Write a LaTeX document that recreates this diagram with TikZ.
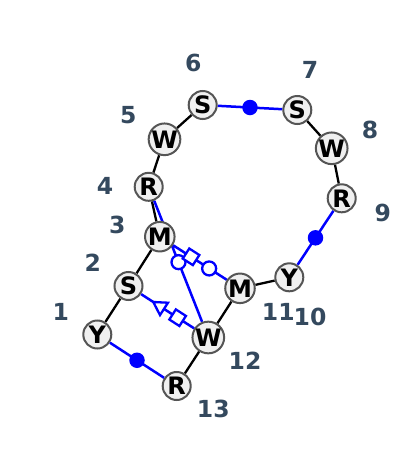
\documentclass[tikz,border=0pt]{standalone}
\usepackage{fontspec}
\setmainfont{DejaVu Sans}
\usetikzlibrary{calc,shapes.geometric}
\definecolor{nodefill}{RGB}{240,240,240}
\definecolor{nodeedge}{RGB}{85,85,85}
\definecolor{labcol}{RGB}{52,73,94}
\pgfdeclarelayer{bg}
\pgfsetlayers{bg,main}
\begin{document}
\begin{tikzpicture}[x=1pt,y=-1pt,
  nt/.style={circle,draw=nodeedge,fill=nodefill,line width=2pt,minimum size=28pt,inner sep=0pt,font=\fontsize{24}{24}\selectfont\bfseries},
  lab/.style={text=labcol,inner sep=0pt,font=\fontsize{23.5}{23.5}\selectfont\bfseries},
  bb/.style={draw=black,line width=2.3pt},
  bp/.style={draw=blue,line width=2.5pt},
  dotsym/.style={circle,fill=blue,minimum size=15.5pt,inner sep=0pt},
  sym/.style={draw=blue,fill=white,line width=2.3pt,inner sep=0pt},
  sqsym/.style={sym,rectangle,minimum size=12pt},
  cisym/.style={sym,circle,minimum size=14pt},
  trsym/.style={sym,regular polygon,regular polygon sides=3,minimum size=17pt}]
\useasboundingbox (0,0) rectangle (400,453);
% nodes
\node[nt] (n1) at (97.3,334.5) {Y};
\node[nt] (n2) at (128.5,286) {S};
\node[nt] (n3) at (159.8,236.7) {M};
\node[nt] (n4) at (148.7,186.8) {R};
\node[nt] (n5) at (164.5,139.3) {W};
\node[nt] (n6) at (202.7,105) {S};
\node[nt] (n7) at (297.3,110) {S};
\node[nt] (n8) at (331.7,148.3) {W};
\node[nt] (n9) at (341.7,198.3) {R};
\node[nt] (n10) at (289.3,277.3) {Y};
\node[nt] (n11) at (240,288.3) {M};
\node[nt] (n12) at (208.3,337.5) {W};
\node[nt] (n13) at (176.7,386) {R};
% labels
\node[lab] (l1) at (60.7,311.7) {1};
\node[lab] (l2) at (92.7,262.7) {2};
\node[lab] (l3) at (117.3,225) {3};
\node[lab] (l4) at (105,186) {4};
\node[lab] (l5) at (128.3,115.5) {5};
\node[lab] (l6) at (193.3,63.3) {6};
\node[lab] (l7) at (310,69.5) {7};
\node[lab] (l8) at (370,129.5) {8};
\node[lab] (l9) at (382.7,212.7) {9};
\node[lab] (l10) at (310,316.7) {10};
\node[lab] (l11) at (278.3,311.7) {11};
\node[lab] (l12) at (245,361) {12};
\node[lab] (l13) at (213.3,408.5) {13};
\begin{pgfonlayer}{bg}
\draw[bb] (n1)--(n2) (n2)--(n3) (n3)--(n4) (n4)--(n5) (n5)--(n6)
  (n7)--(n8) (n8)--(n9) (n10)--(n11) (n11)--(n12) (n12)--(n13);
\draw[bp] (n6)--(n7) (n9)--(n10) (n13)--(n1) (n4)--(n12) (n3)--(n11) (n2)--(n12);
\node[dotsym] (d67) at ($(n6)!0.5!(n7)$) {};
\node[dotsym] (d910) at ($(n9)!0.5!(n10)$) {};
\node[dotsym] (d131) at ($(n13)!0.5!(n1)$) {};
\node[cisym] (c412) at ($(n4)!0.5!(n12)$) {};
\path let \p1=($(n11)-(n3)$), \n1={atan2(\y1,\x1)} in
  node[sqsym,rotate=\n1] (s311) at ($(n3)!0.5!(n11)!10.5pt!(n3)$) {}
  node[cisym] (c311) at ($(n3)!0.5!(n11)!11pt!(n11)$) {};
\path let \p1=($(n12)-(n2)$), \n1={atan2(\y1,\x1)} in
  node[trsym,rotate=\n1+90] (t212) at ($(n2)!0.5!(n12)!9.5pt!(n2)$) {}
  node[sqsym,rotate=\n1] (s212) at ($(n2)!0.5!(n12)!11pt!(n12)$) {};
\end{pgfonlayer}
\end{tikzpicture}
\end{document}
